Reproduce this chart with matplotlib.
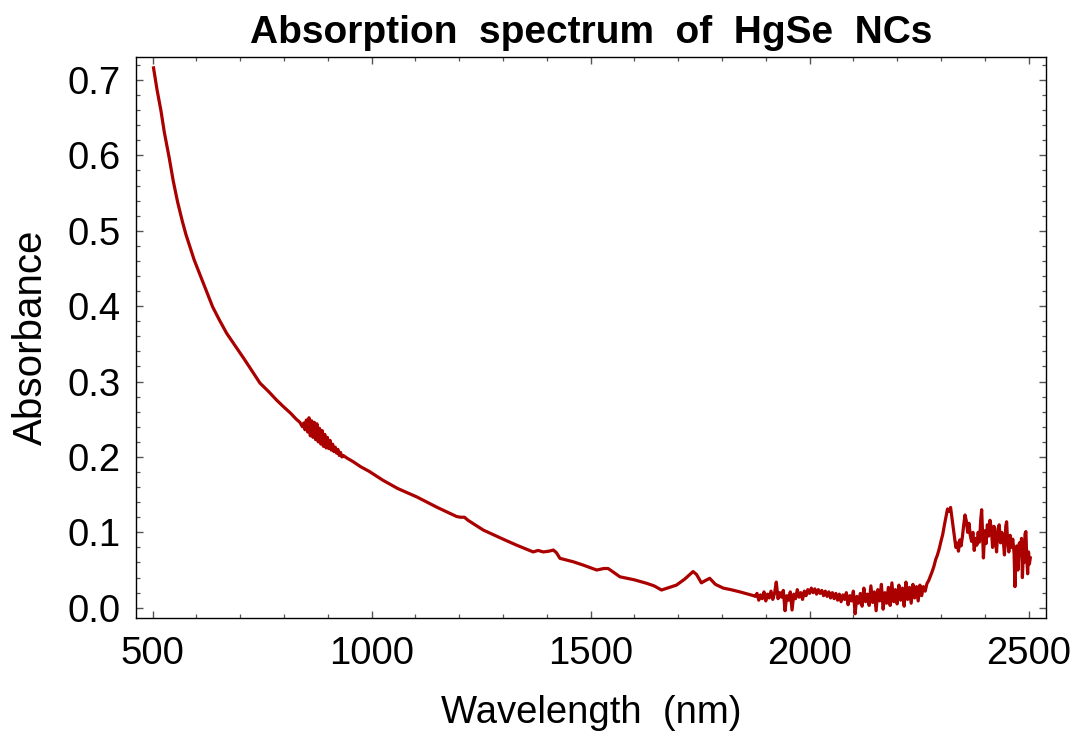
import matplotlib
matplotlib.use("Agg")
import matplotlib.pyplot as plt
from matplotlib.ticker import MultipleLocator, FormatStrFormatter

plt.rcParams['font.family'] = ['Liberation Sans', 'DejaVu Sans']

title = "Absorption  spectrum  of  HgSe  NCs"
xlabel = "Wavelength  (nm)"
ylabel = "Absorbance"

# smooth short-wavelength part
wl_a = [502, 510, 519, 526.5, 538, 547, 557, 568, 576, 595, 610, 622, 637,
        652, 669, 690, 710, 728, 745, 766, 782, 798, 815, 828]
ab_a = [0.716, 0.687, 0.659, 0.631, 0.596, 0.566, 0.538, 0.512, 0.495, 0.461,
        0.439, 0.421, 0.399, 0.382, 0.364, 0.346, 0.329, 0.313, 0.298, 0.286,
        0.276, 0.267, 0.258, 0.250]

# noisy region around 850-930 nm
wl_b = [836, 839, 842, 845, 848, 851, 854, 857, 860, 863, 866, 869, 872, 875,
        878, 881, 884, 887, 890, 893, 896, 899, 902, 905, 908, 911, 914, 917,
        920, 923, 926, 929, 932, 935]
ab_b = [0.246, 0.243, 0.240, 0.245, 0.236, 0.249, 0.233, 0.252, 0.228, 0.248,
        0.226, 0.246, 0.223, 0.244, 0.220, 0.238, 0.217, 0.235, 0.214, 0.230,
        0.212, 0.226, 0.211, 0.222, 0.209, 0.217, 0.207, 0.213, 0.205, 0.210,
        0.202, 0.206, 0.200, 0.202]

# mid region with small bands
wl_c = [945, 957, 975, 994, 1010, 1026, 1060, 1103, 1150, 1194, 1203, 1212,
        1220, 1255, 1300, 1331, 1369, 1380, 1392, 1405, 1415, 1422, 1430, 1460,
        1483, 1514, 1530, 1540, 1550, 1567, 1600, 1628, 1645, 1662, 1680, 1696,
        1715, 1734, 1742, 1753, 1762, 1772, 1785, 1803, 1820, 1841, 1860, 1872]
ab_c = [0.198, 0.194, 0.187, 0.181, 0.175, 0.169, 0.158, 0.147, 0.133, 0.121,
        0.120, 0.120, 0.116, 0.103, 0.091, 0.083, 0.074, 0.076, 0.074, 0.075,
        0.0765, 0.073, 0.0655, 0.061, 0.0566, 0.050, 0.052, 0.052, 0.048, 0.041,
        0.037, 0.0324, 0.029, 0.0235, 0.027, 0.030, 0.038, 0.048, 0.044, 0.033,
        0.036, 0.039, 0.031, 0.026, 0.024, 0.021, 0.018, 0.016]

# noisy baseline 1876-2268 nm
wl_d = [1876, 1880, 1884, 1888, 1892, 1896, 1900, 1904, 1908, 1912, 1916, 1920,
        1924, 1928, 1932, 1936, 1940, 1944, 1948, 1952, 1956, 1960, 1964, 1968,
        1972, 1976, 1980, 1984, 1988, 1992, 1996, 2000, 2004, 2008, 2012, 2016,
        2020, 2024, 2028, 2032, 2036, 2040, 2044, 2048, 2052, 2056, 2060, 2064,
        2068, 2072, 2076, 2080, 2084, 2088, 2092, 2096, 2100, 2104, 2108, 2112,
        2116, 2120, 2124, 2128, 2132, 2136, 2140, 2144, 2148, 2152, 2156, 2160,
        2164, 2168, 2172, 2176, 2180, 2184, 2188, 2192, 2196, 2200, 2204, 2208,
        2212, 2216, 2220, 2224, 2228, 2232, 2236, 2240, 2244, 2248, 2252, 2256,
        2260, 2264, 2268]
ab_d = [0.015, 0.019, 0.010, 0.017, 0.012, 0.021, 0.009, 0.018, 0.013, 0.022,
        0.011, 0.019, 0.034, 0.012, 0.020, 0.014, 0.023, -0.004, 0.016, 0.010,
        0.021, -0.003, 0.018, 0.012, 0.024, 0.014, 0.020, 0.011, 0.022, 0.016,
        0.024, 0.019, 0.026, 0.020, 0.025, 0.018, 0.024, 0.019, 0.023, 0.016,
        0.022, 0.015, 0.021, 0.013, 0.020, 0.012, 0.019, 0.010, 0.018, 0.008,
        0.017, 0.011, 0.020, 0.004, 0.016, 0.009, 0.022, -0.008, 0.015, 0.006,
        0.019, 0.002, 0.026, 0.008, 0.018, 0.003, 0.029, 0.007, 0.021, -0.004,
        0.024, 0.009, 0.031, -0.002, 0.020, 0.006, 0.027, 0.003, 0.033, 0.008,
        0.024, 0.005, 0.030, 0.010, 0.026, 0.002, 0.034, 0.011, 0.027, 0.006,
        0.031, 0.013, 0.028, 0.009, 0.030, 0.016, 0.028, 0.022, 0.032]

# band at ~2320 nm and noisy tail
wl_e = [2272, 2276, 2280, 2284, 2288, 2292, 2296, 2300, 2304, 2308, 2312, 2315,
        2319, 2322, 2325, 2328, 2331, 2334, 2337, 2340, 2343, 2346, 2349, 2352,
        2355, 2358, 2361, 2364, 2367, 2370, 2373, 2376, 2379, 2382, 2385, 2388,
        2391, 2393, 2395, 2397, 2400, 2403, 2406, 2409, 2412, 2415, 2418, 2421,
        2424, 2427, 2430, 2433, 2436, 2439, 2442, 2445, 2448, 2450, 2452, 2455,
        2458, 2461, 2464, 2467, 2469, 2471, 2473, 2476, 2479, 2482, 2484, 2486,
        2488, 2490, 2492, 2494, 2496, 2498, 2500, 2502, 2504]
ab_e = [0.036, 0.042, 0.048, 0.055, 0.064, 0.070, 0.078, 0.088, 0.097, 0.110,
        0.122, 0.131, 0.128, 0.133, 0.120, 0.106, 0.095, 0.080, 0.086, 0.075,
        0.090, 0.082, 0.094, 0.110, 0.123, 0.115, 0.100, 0.112, 0.096, 0.088,
        0.100, 0.076, 0.092, 0.083, 0.100, 0.087, 0.118, 0.130, 0.100, 0.066,
        0.102, 0.085, 0.110, 0.095, 0.116, 0.105, 0.080, 0.108, 0.094, 0.074,
        0.104, 0.110, 0.086, 0.100, 0.092, 0.070, 0.108, 0.114, 0.090, 0.074,
        0.096, 0.080, 0.091, 0.072, 0.028, 0.060, 0.082, 0.050, 0.086, 0.078,
        0.092, 0.040, 0.070, 0.060, 0.098, 0.101, 0.066, 0.045, 0.074, 0.058,
        0.066]

wavelength = wl_a + wl_b + wl_c + wl_d + wl_e
absorbance = ab_a + ab_b + ab_c + ab_d + ab_e

fig = plt.figure(figsize=(10.71, 7.35), dpi=100)
ax = fig.add_axes([0.127, 0.1588, 0.8497, 0.7632])
ax.plot(wavelength, absorbance, color='#AA0000', linewidth=2.3,
        solid_joinstyle='round')

ax.set_xlim(462, 2540)
ax.set_ylim(-0.014, 0.730)
ax.xaxis.set_major_locator(MultipleLocator(500))
ax.xaxis.set_minor_locator(MultipleLocator(100))
ax.yaxis.set_major_locator(MultipleLocator(0.1))
ax.yaxis.set_minor_locator(MultipleLocator(0.02))
ax.yaxis.set_major_formatter(FormatStrFormatter('%.1f'))

ax.tick_params(which='both', direction='in', top=True, right=True,
               color='#555555', labelsize=27.5)
ax.tick_params(axis='y', which='major', pad=11)
ax.tick_params(axis='x', which='major', pad=13)
ax.tick_params(which='major', length=5, width=1.0)
ax.tick_params(which='minor', length=3.2, width=0.9)
for s in ax.spines.values():
    s.set_linewidth(1.0)
    s.set_color('black')

ax.set_title(title, fontsize=28, fontweight='bold', pad=10)
ax.set_xlabel(xlabel, fontsize=27.5, labelpad=16)
ax.set_ylabel(ylabel, fontsize=29, labelpad=13)

fig.savefig('out.png', dpi=100)
